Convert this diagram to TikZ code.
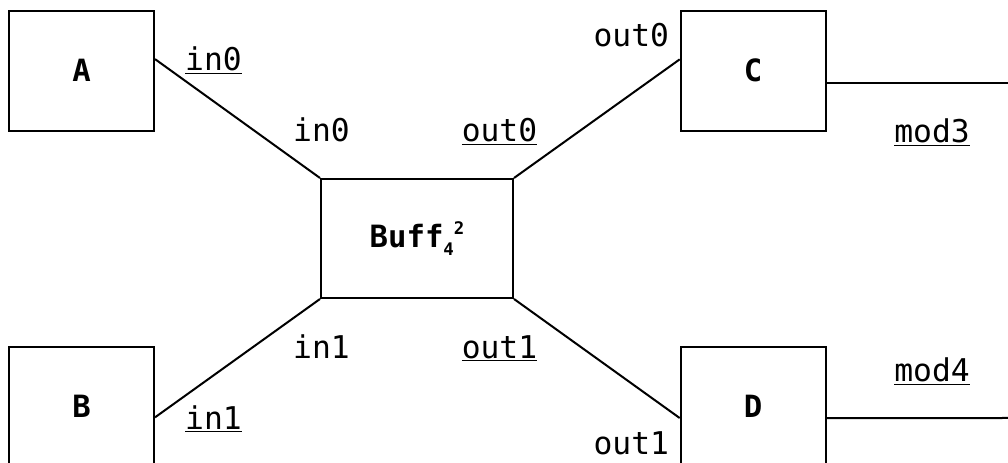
\documentclass[tikz,border=0pt]{standalone}
\usepackage{fontspec}
\setmainfont{DejaVu Sans Mono}
\usepackage{tikz}

\begin{document}
\begin{tikzpicture}[x=0.75pt, y=-0.75pt, line width=1.5pt, main/.style = {draw, rectangle, minimum width=108.75pt, minimum height=90pt, inner sep=0pt, font=\fontsize{23}{26}\selectfont\bfseries}, port/.style = {anchor=base, inner sep=0pt, font=\fontsize{23.5}{28}\selectfont}]
		\useasboundingbox (0,0) rectangle (1008,463);
		\node[main] (A) at (81.5,70.7) {A};
		\node[main] (B) at (81.5,406.7) {B};
		\node[main] (C) at (753.2,70.7) {C};
		\node[main] (D) at (753.2,406.7) {D};
		\node[main, minimum width=144pt, minimum height=89.25pt] (buff) at (417,238.5) {Buff\raisebox{-5.5pt}{\fontsize{13}{13}\selectfont 4}\raisebox{10pt}{\fontsize{13}{13}\selectfont 2}};
		\coordinate (m3) at (1008,82.7);
		\coordinate (m4) at (1008,418);
		
		\node[port] (in0a) at (213.5,70.7) {\underline{in0}};
		\node[port] (in0b) at (321.5,141.7) {in0};
		\node[port] (in1b) at (321.5,358.3) {in1};
		\node[port] (in1a) at (213.5,429.5) {\underline{in1}};
		\node[port] (out0a) at (499.5,141.7) {\underline{out0}};
		\node[port] (out0b) at (631.3,46.7) {out0};
		\node[port] (out1a) at (499.5,358.3) {\underline{out1}};
		\node[port] (out1b) at (631.3,455) {out1};
		\node[port] (mod3) at (932,142.7) {\underline{mod3}};
		\node[port] (mod4) at (932,381.7) {\underline{mod4}};
		
		\draw ([yshift=8.7pt]A.east) -- (buff.north west);
		\draw ([yshift=-8pt]B.east) -- (buff.south west);
		\draw (buff.north east) -- ([yshift=8.5pt]C.west);
		\draw (buff.south east) -- ([yshift=-8.5pt]D.west);
		\draw ([yshift=-9pt]C.east) -- (m3);
		\draw ([yshift=-8.5pt]D.east) -- (m4);
	\end{tikzpicture}
\end{document}
